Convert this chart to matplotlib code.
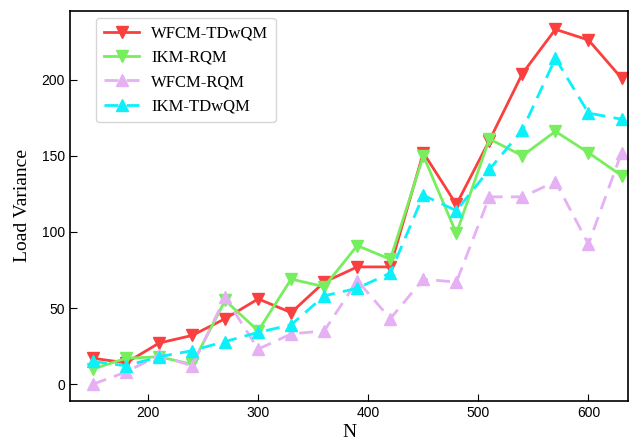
import matplotlib
matplotlib.use("Agg")
import matplotlib.pyplot as plt

N = [150, 180, 210, 240, 270, 300, 330, 360, 390, 420, 450, 480, 510, 540, 570, 600, 630]
wfcm_tdwqm = [17, 14, 27, 32, 43, 56, 47, 67, 77, 77, 152, 118, 160, 204, 233, 226, 201]
ikm_rqm = [10, 17, 18, 13, 55, 35, 69, 64, 91, 82, 150, 99, 161, 150, 166, 152, 137]
wfcm_rqm = [0, 8, 19, 12, 57, 23, 33, 35, 68, 43, 69, 67, 123, 123, 133, 92, 152]
ikm_tdwqm = [15, 12, 18, 22, 28, 34, 39, 58, 63, 73, 124, 114, 141, 167, 214, 178, 174]

fig = plt.figure(figsize=(6.3, 4.43), dpi=100)
ax = fig.add_axes([0.111, 0.095, 0.886, 0.880])

ax.plot(N, wfcm_tdwqm, color='#fa3f3f', marker='v', ms=9, lw=2, label='WFCM-TDwQM')
ax.plot(N, ikm_rqm, color='#77ee5e', marker='v', ms=9, lw=2, label='IKM-RQM')
ax.plot(N, wfcm_rqm, color='#e6b0f5', marker='^', ms=9, lw=2, ls='--', dashes=(5, 3), label='WFCM-RQM')
ax.plot(N, ikm_tdwqm, color='#0cf0fa', marker='^', ms=9, lw=2, ls='--', dashes=(5, 3), label='IKM-TDwQM')

ax.set_xlim(129, 636)
ax.set_ylim(-11, 245)
ax.set_xticks([200, 300, 400, 500, 600])
ax.set_yticks([0, 50, 100, 150, 200])
ax.tick_params(direction='in', length=5, labelsize=10)
for lab in ax.get_xticklabels() + ax.get_yticklabels():
    lab.set_family('Liberation Sans')
for s in ax.spines.values():
    s.set_linewidth(1.2)

ax.set_xlabel('N', family='Liberation Serif', fontsize=14, labelpad=3)
ax.set_ylabel('Load Variance', family='Liberation Serif', fontsize=14, labelpad=8)

leg = ax.legend(loc='upper left', bbox_to_anchor=(0.047, 0.982), borderaxespad=0,
                prop={'family': 'Liberation Serif', 'size': 12},
                handlelength=2.15, handletextpad=0.7, borderpad=0.45, labelspacing=0.5)
leg.get_frame().set_edgecolor('#cccccc')

fig.savefig('out.png', dpi=100)
